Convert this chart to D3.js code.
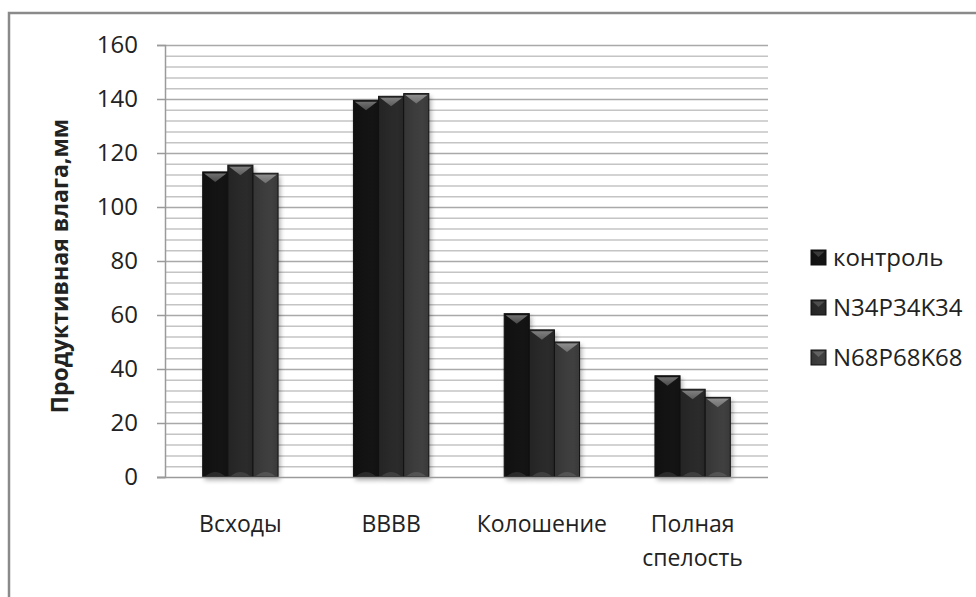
<!DOCTYPE html>
<html>
<head>
<meta charset="utf-8">
<script src="https://cdn.jsdelivr.net/npm/d3@7/dist/d3.min.js"></script>
<style>
  html, body { margin: 0; padding: 0; background: #fff; }
  svg { display: block; }
  text { font-family: "Open Sans", "DejaVu Sans", sans-serif; fill: #222; }
</style>
</head>
<body>
<svg id="chart" width="976" height="597"></svg>
<script>
// Productive soil moisture by growth phase and fertiliser treatment
const categories = ["Всходы", "ВВВВ", "Колошение", "Полная спелость"];
const seriesNames = ["контроль", "N34P34K34", "N68P68K68"];
const control = [113, 139.5, 60.5, 37.5];
const npk34 = [115.5, 141, 54.5, 32.5];
const npk68 = [112.5, 142, 50, 29.5];
const yTicks = [0, 20, 40, 60, 80, 100, 120, 140, 160];
const yTitle = "Продуктивная влага,мм";

const seriesValues = [control, npk34, npk68];
const colors = ["#131313", "#292929", "#3d3d3d"];
const highlights = ["#3a3a3a", "#4e4e4e", "#626262"];

const svg = d3.select("#chart");
const plot = { left: 165, right: 768, top: 45, bottom: 477 };

// outer frame (top and left edges)
svg.append("path")
  .attr("d", "M9,597 V13 H976")
  .attr("fill", "none").attr("stroke", "#8a8a8a").attr("stroke-width", 2.5);

const x = d3.scaleBand().domain(categories)
  .range([plot.left, plot.right]).paddingInner(0.5).paddingOuter(0.25);
const xs = d3.scaleBand().domain(seriesNames).range([0, x.bandwidth()]);
const y = d3.scaleLinear().domain([0, 160]).range([plot.bottom, plot.top]);

// gradients per series
const defs = svg.append("defs");
seriesNames.forEach((s, i) => {
  const g = defs.append("linearGradient").attr("id", "g" + i)
    .attr("x1", 0).attr("x2", 1).attr("y1", 0).attr("y2", 0);
  g.append("stop").attr("offset", "0%").attr("stop-color", d3.color(colors[i]).darker(0.4));
  g.append("stop").attr("offset", "45%").attr("stop-color", colors[i]);
  g.append("stop").attr("offset", "75%").attr("stop-color", d3.color(colors[i]).brighter(0.15));
  g.append("stop").attr("offset", "100%").attr("stop-color", d3.color(colors[i]).darker(0.2));
});
const bevel = defs.append("linearGradient").attr("id", "bevel")
  .attr("x1", 0).attr("x2", 0).attr("y1", 0).attr("y2", 1);
bevel.append("stop").attr("offset", "0%").attr("stop-color", "#fff").attr("stop-opacity", 0.28);
bevel.append("stop").attr("offset", "100%").attr("stop-color", "#fff").attr("stop-opacity", 0.08);
const blur = defs.append("filter").attr("id", "shadow")
  .attr("x", "-20%").attr("y", "-20%").attr("width", "140%").attr("height", "140%");
blur.append("feGaussianBlur").attr("stdDeviation", 2.5);

// minor gridlines every 4 units, major every 20
const minor = d3.range(4, 160, 4).filter(v => v % 20 !== 0);
svg.append("g").selectAll("line").data(minor).join("line")
  .attr("x1", plot.left).attr("x2", plot.right)
  .attr("y1", d => y(d) + 0.5).attr("y2", d => y(d) + 0.5)
  .attr("stroke", "#c4c4c4").attr("stroke-width", 1.5);
svg.append("g").selectAll("line").data(yTicks.filter(v => v > 0)).join("line")
  .attr("x1", plot.left).attr("x2", plot.right)
  .attr("y1", d => y(d) + 0.5).attr("y2", d => y(d) + 0.5)
  .attr("stroke", "#a9a9a9").attr("stroke-width", 1.5);

// y axis
const yAxis = svg.append("g").attr("transform", `translate(${plot.left},0)`)
  .call(d3.axisLeft(y).tickValues(yTicks).tickSize(8).tickPadding(19));
yAxis.select(".domain").attr("stroke", "#9a9a9a").attr("stroke-width", 1.5);
yAxis.selectAll(".tick line").attr("stroke", "#9a9a9a").attr("stroke-width", 1.5);
yAxis.selectAll(".tick text").attr("font-size", 24).attr("fill", "#222")
  .style("font-family", "'Open Sans', sans-serif");

// bars
const groups = svg.append("g").selectAll("g").data(categories).join("g")
  .attr("transform", d => `translate(${x(d)},0)`);

groups.each(function(cat, ci) {
  const g = d3.select(this);
  const w = xs.bandwidth();
  // soft shadow
  seriesNames.forEach((s, si) => {
    const v = seriesValues[si][ci];
    g.append("rect")
      .attr("x", xs(s) + 2).attr("y", y(v) + 3)
      .attr("width", w).attr("height", y(0) - y(v))
      .attr("fill", "#000").attr("opacity", 0.35).attr("filter", "url(#shadow)");
  });
  seriesNames.forEach((s, si) => {
    const v = seriesValues[si][ci];
    const x0 = xs(s), yTop = y(v), yBot = y(0);
    g.append("rect")
      .attr("x", x0).attr("y", yTop)
      .attr("width", w).attr("height", yBot - yTop)
      .attr("fill", `url(#g${si})`)
      .attr("stroke", "#111").attr("stroke-width", 1);
    // top bevel
    g.append("path")
      .attr("d", `M${x0 + 1.5},${yTop + 1.5} L${x0 + w - 1.5},${yTop + 1.5} L${x0 + w / 2},${yTop + 10} Z`)
      .attr("fill", highlights[si]);
    g.append("path")
      .attr("d", `M${x0 + 1.5},${yTop + 1.5} L${x0 + w - 1.5},${yTop + 1.5} L${x0 + w / 2},${yTop + 10} Z`)
      .attr("fill", "url(#bevel)");
    // bottom bevel
    g.append("path")
      .attr("d", `M${x0 + 3},${yBot - 1} Q${x0 + w / 2},${yBot - 9} ${x0 + w - 3},${yBot - 1} Z`)
      .attr("fill", highlights[si]).attr("opacity", 0.6);
  });
});

// baseline
svg.append("line")
  .attr("x1", plot.left - 8).attr("x2", plot.right)
  .attr("y1", y(0) + 0.5).attr("y2", y(0) + 0.5)
  .attr("stroke", "#9a9a9a").attr("stroke-width", 1.5);

// category labels
svg.append("g").selectAll("text").data(categories).join("text")
  .attr("x", d => x(d) + x.bandwidth() / 2)
  .attr("y", 532)
  .attr("text-anchor", "middle")
  .attr("font-size", 23)
  .each(function(d) {
    const words = d === "Полная спелость" ? ["Полная", "спелость"] : [d];
    const t = d3.select(this);
    words.forEach((wd, i) => {
      t.append("tspan").attr("x", x(d) + x.bandwidth() / 2)
        .attr("dy", i === 0 ? 0 : 34).text(wd);
    });
  });

// y axis title
svg.append("text")
  .attr("transform", "translate(68,266) rotate(-90)")
  .attr("text-anchor", "middle")
  .attr("font-size", 23).attr("font-weight", "bold")
  .text(yTitle);

// legend
const legend = svg.append("g").selectAll("g").data(seriesNames).join("g")
  .attr("transform", (d, i) => `translate(811,${250 + i * 50})`);
legend.append("rect").attr("width", 15).attr("height", 15)
  .attr("fill", (d, i) => `url(#g${i})`).attr("stroke", "#111");
legend.append("path")
  .attr("d", "M1.5,1.5 L13.5,1.5 L7.5,7 Z")
  .attr("fill", (d, i) => highlights[i]);
legend.append("text").attr("x", 22).attr("y", 8).attr("dy", "0.35em")
  .attr("font-size", 24).text(d => d);
</script>
</body>
</html>
